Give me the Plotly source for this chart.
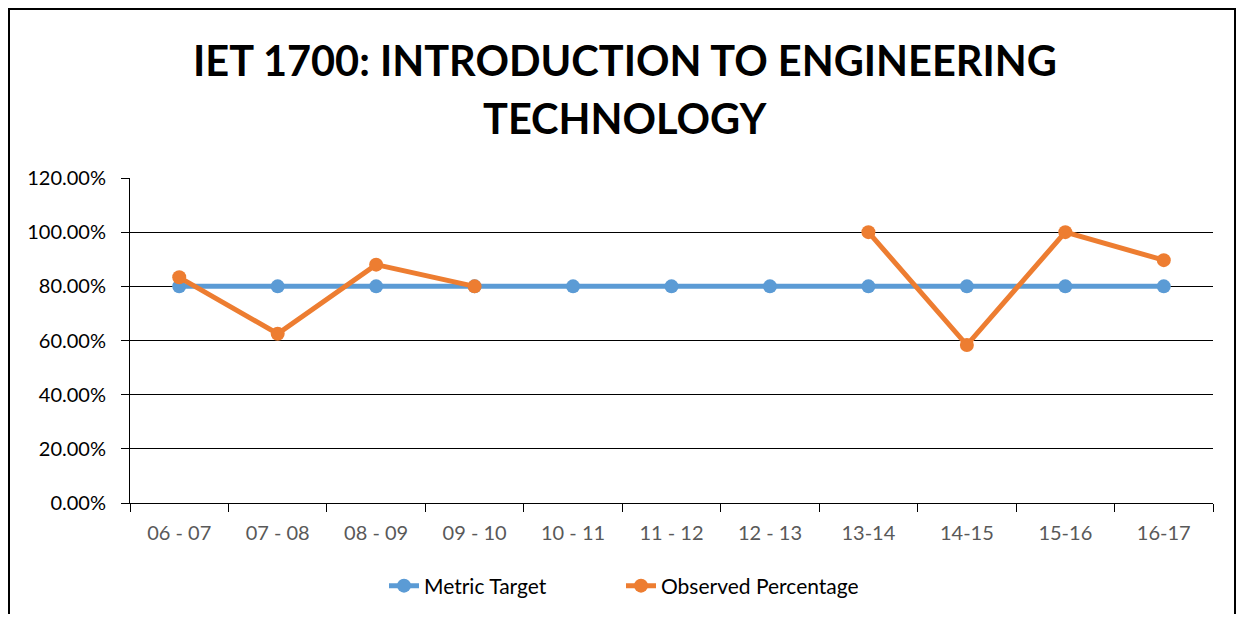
import plotly.graph_objects as go

categories = ["06 - 07", "07 - 08", "08 - 09", "09 - 10", "10 - 11", "11 - 12",
              "12 - 13", "13-14", "14-15", "15-16", "16-17"]
metric_target = [0.80, 0.80, 0.80, 0.80, 0.80, 0.80, 0.80, 0.80, 0.80, 0.80, 0.80]
observed = [0.8333, 0.625, 0.88, 0.80, None, None, None, 1.00, 0.5833, 1.00, 0.8966]
y_ticks = [0, 0.2, 0.4, 0.6, 0.8, 1.0, 1.2]
title_lines = ["IET 1700: INTRODUCTION TO ENGINEERING", "TECHNOLOGY"]

BLUE = "#5B9BD5"
ORANGE = "#ED7D31"
FONT = "Lato"

# page body has an 8px margin: figure 1228x606 placed at (8,8)
W, H = 1228, 606
L, R, T, B = 122, 23, 170, 111
PW, PH = W - L - R, H - T - B


def px_to_paper_x(px):
    return (px - 8 - L) / PW


def px_to_paper_y(py):
    return 1 - (py - 8 - T) / PH


fig = go.Figure()
fig.add_trace(go.Scatter(x=categories, y=metric_target, name="Metric Target",
                         mode="lines+markers",
                         line=dict(color=BLUE, width=5),
                         marker=dict(color=BLUE, size=14)))
fig.add_trace(go.Scatter(x=categories, y=observed, name="Observed Percentage",
                         mode="lines+markers", connectgaps=False,
                         line=dict(color=ORANGE, width=5),
                         marker=dict(color=ORANGE, size=14)))

annotations = [
    dict(text=title_lines[0], xref="paper", yref="paper",
         x=px_to_paper_x(625), y=px_to_paper_y(60), xanchor="center", yanchor="middle",
         showarrow=False, font=dict(family=FONT, size=41.5, color="black", weight="bold")),
    dict(text=title_lines[1], xref="paper", yref="paper",
         x=px_to_paper_x(625), y=px_to_paper_y(118), xanchor="center", yanchor="middle",
         showarrow=False, font=dict(family=FONT, size=41.5, color="black", weight="bold")),
]

fig.update_layout(
    width=W, height=H,
    margin=dict(l=L, r=R, t=T, b=B, autoexpand=False),
    paper_bgcolor="white", plot_bgcolor="white",
    font=dict(family=FONT, color="#595959", size=20),
    showlegend=True,
    annotations=annotations,
    legend=dict(orientation="h", x=px_to_paper_x(384), xanchor="left", xref="paper",
                y=px_to_paper_y(586), yanchor="middle",
                font=dict(family=FONT, size=21, color="black"),
                entrywidth=192, tracegroupgap=0),
    shapes=[dict(type="rect", xref="paper", yref="paper",
                 x0=px_to_paper_x(9), x1=px_to_paper_x(1235),
                 y0=px_to_paper_y(660), y1=px_to_paper_y(9),
                 line=dict(color="black", width=2), fillcolor="rgba(0,0,0,0)",
                 layer="below")],
)
fig.update_xaxes(type="category", range=[-0.5, 10.5],
                 showline=True, linecolor="black", linewidth=1,
                 ticks="outside", tickson="boundaries", ticklen=8,
                 tickcolor="black", showgrid=False,
                 tickfont=dict(family=FONT, size=20, color="#595959"),
                 ticklabelstandoff=12)
fig.update_yaxes(range=[0, 1.2], tickvals=y_ticks, tickformat=".2%",
                 showline=True, linecolor="black", linewidth=1,
                 ticks="outside", ticklen=8, tickcolor="black",
                 showgrid=True, gridcolor="black", gridwidth=1,
                 zeroline=False,
                 tickfont=dict(family=FONT, size=20, color="black"),
                 ticklabelstandoff=11)

fig.write_html("out.html")
